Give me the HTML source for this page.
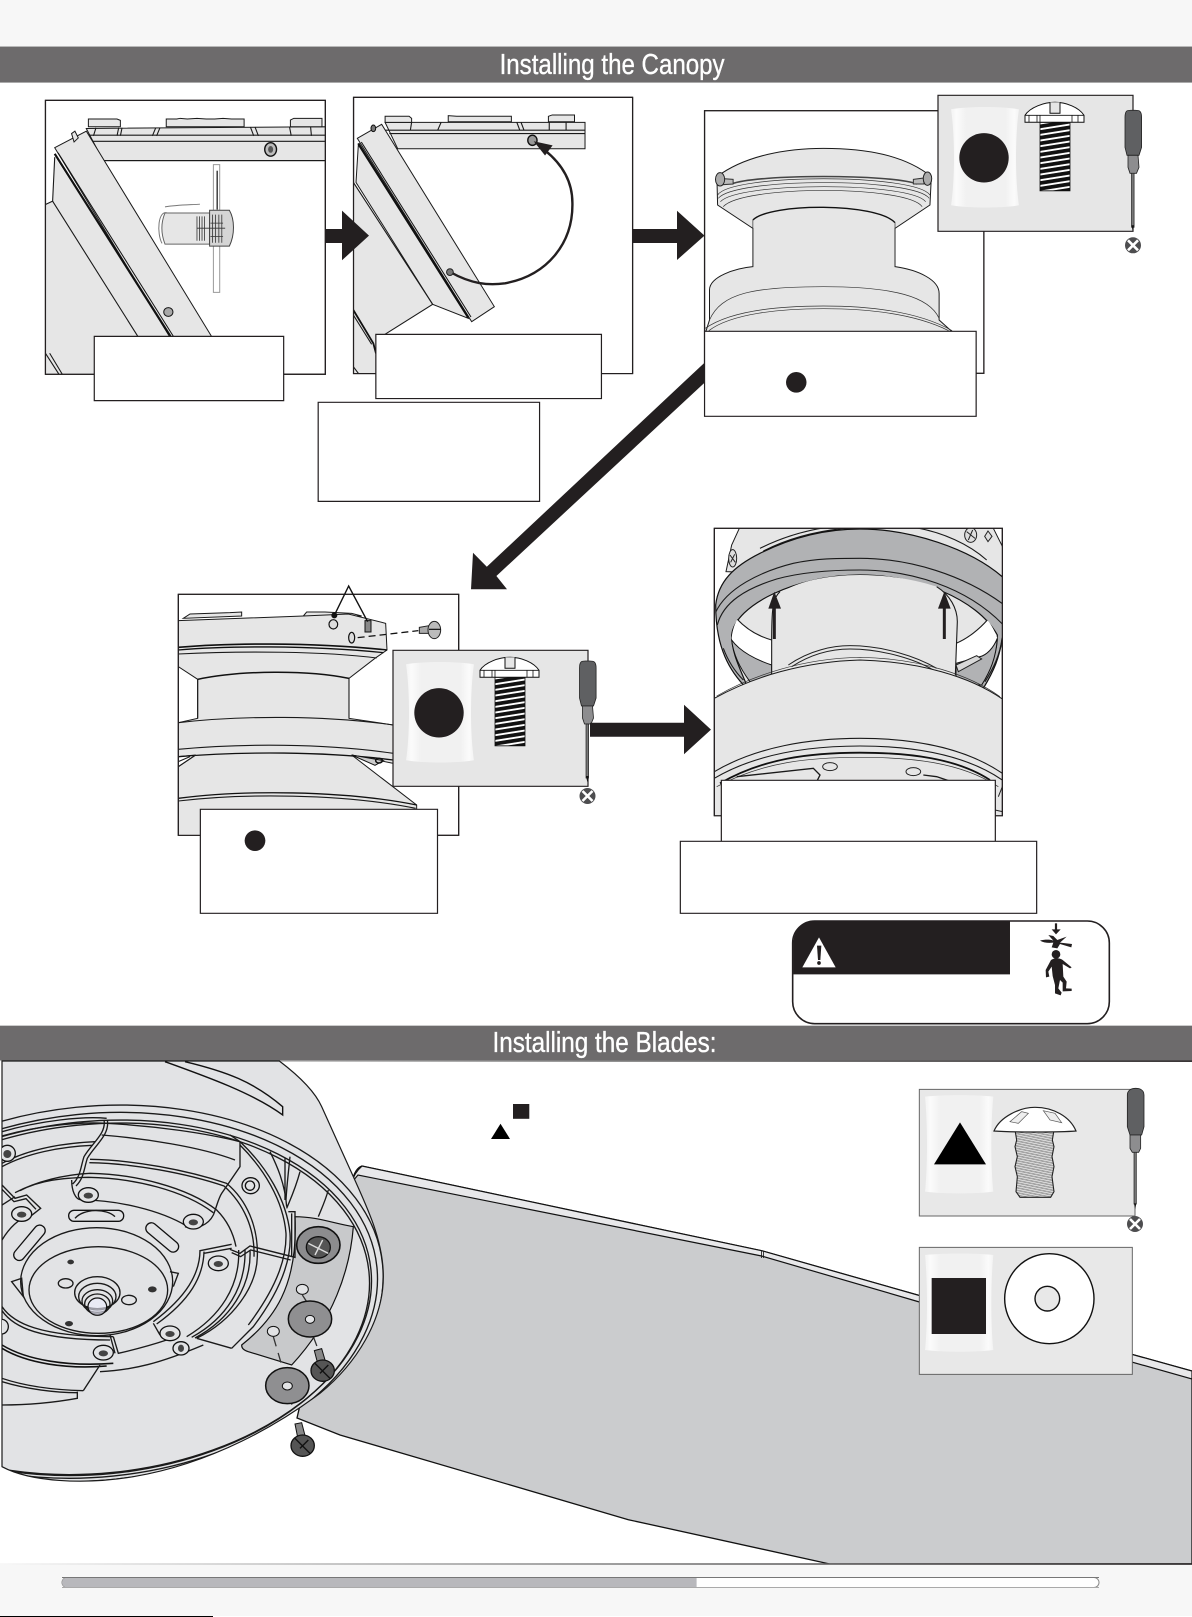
<!DOCTYPE html>
<html lang="en">
<head>
<meta charset="utf-8">
<title>Installing the Canopy</title>
<style>
html,body{margin:0;padding:0;background:#fff;}
svg{display:block;}
svg *{vector-effect:non-scaling-stroke;}
.l{fill:none;stroke:#1a1a1a;stroke-width:1.1;}
.t{fill:none;stroke:#333;stroke-width:.7;}
.g{fill:#e6e6e6;stroke:#1a1a1a;stroke-width:1;}
.n{fill:#e6e6e6;stroke:none;}
.w{fill:#fff;stroke:#231f20;stroke-width:1.2;}
.h{fill:none;stroke:#1a1a1a;stroke-width:1.35;}
.s{fill:#e2e3e5;stroke:#1a1a1a;stroke-width:1.2;}
.k{fill:#231f20;stroke:none;}
</style>
</head>
<body>
<svg xmlns="http://www.w3.org/2000/svg" width="1192" height="1617" viewBox="0 0 1192 1617">
<defs>
<linearGradient id="bag" x1="0" x2="1" y1="0" y2="0">
<stop offset="0" stop-color="#f3f3f3"/><stop offset=".08" stop-color="#fbfbfb"/><stop offset=".22" stop-color="#f1f1f1"/><stop offset=".8" stop-color="#f1f1f1"/><stop offset=".93" stop-color="#fbfbfb"/><stop offset="1" stop-color="#f3f3f3"/>
</linearGradient>
<linearGradient id="edge" x1="0" x2="1" y1="0" y2="0">
<stop offset="0" stop-color="#f7f7f7"/><stop offset=".5" stop-color="#8a8a8a"/><stop offset="1" stop-color="#231f20"/>
</linearGradient>
<pattern id="th" width="40" height="5.6" patternUnits="userSpaceOnUse" patternTransform="rotate(-9)">
<rect width="40" height="5.6" fill="#fff"/><rect width="40" height="3.7" fill="#111"/>
</pattern>
<pattern id="th2" width="40" height="5" patternUnits="userSpaceOnUse" patternTransform="rotate(-8)">
<rect width="40" height="5" fill="#d8d8d8"/><rect width="40" height="1" fill="#444"/>
</pattern>
<clipPath id="c1"><rect x="108" y="297" width="665" height="810"/></clipPath>
<clipPath id="c2"><rect x="840" y="288" width="663" height="817"/></clipPath>
<clipPath id="c2b"><rect x="40" y="8" width="800" height="827"/></clipPath>
<clipPath id="c3"><rect x="183" y="152" width="792" height="788"/></clipPath>
<clipPath id="c4"><rect x="10" y="13" width="841" height="723"/></clipPath>
<clipPath id="c5"><rect x="133" y="25" width="864" height="862"/></clipPath>
<clipPath id="hub"><path d="M6,123 H838 C900,170 945,215 965,260 L1060,470 C1100,560 1150,660 1150,770 C1150,900 1070,1030 960,1120 C840,1210 640,1330 400,1370 C250,1395 90,1385 6,1340 Z"/></clipPath>
<g id="hwb">
<rect x="0" y="0" width="195" height="136" fill="#e6e6e6" stroke="#231f20" stroke-width="1.2"/>
<path d="M13,14 C30,11 64,11 81,14 C77,40 77,85 81,110 C64,113 30,113 13,110 C17,85 17,40 13,14Z" fill="url(#bag)"/>
<circle cx="46" cy="62.5" r="24.7" fill="#231f20"/>
<rect x="102" y="27" width="30" height="68.5" fill="url(#th)" stroke="#111" stroke-width=".8"/>
<path d="M87,20 C92,12 106,7 117,7 C128,7 141,12 146,20 V27 H87 Z" fill="#fff" stroke="#111" stroke-width="1"/>
<path d="M87,20 H146 M91,20 V27 M99,20 V27 M134,20 V27 M140,20 V27 M102,20 V27" fill="none" stroke="#111" stroke-width=".8"/>
<path d="M112,7 V18 H122 V7" fill="#e6e6e6" stroke="#111" stroke-width="1"/>
</g>
<g id="drv">
<path d="M187,22 C187,14 190,15 195,15 C200,15 203.6,14 203.6,22 L203.6,52 L201,60 H189 L187,52 Z" fill="#5f6062" stroke="#222" stroke-width=".8"/>
<path d="M190,60 H200 L201,72 L198.5,78 H192 L190,72 Z" fill="#8d8d8f" stroke="#222" stroke-width=".8"/>
<rect x="193.5" y="78" width="2.6" height="54" fill="#777" stroke="#222" stroke-width=".7"/>
<path d="M193.5,130 H196.1 L194.8,136 Z" fill="#111"/>
<circle cx="195" cy="150" r="8" fill="#4d4d4f"/>
<path d="M190,145 L200,155 M200,145 L190,155" stroke="#fff" stroke-width="2.6" fill="none"/>
</g>
</defs>

<!-- page bands -->
<rect x="0" y="0" width="1192" height="46" fill="#f7f7f7"/>
<rect x="0" y="46" width="1192" height="37" fill="#6d6b6c"/>
<rect x="0" y="46" width="1192" height="1" fill="#b9b9b9"/>
<rect x="0" y="82" width="1192" height="1" fill="#aaa"/>
<text x="499.6" y="73.8" font-family="'Liberation Sans Narrow','Liberation Sans',sans-serif" font-size="29" fill="#fff" stroke="#fff" stroke-width=".35" textLength="225" lengthAdjust="spacingAndGlyphs">Installing the Canopy</text>

<!-- FRAME 1 and 2 -->
<g transform="matrix(.42088,0,0,.33806,0,0)">
<rect x="108" y="297" width="665" height="810" class="w"/>
<g clip-path="url(#c1)">
<path class="g" d="M205,380 L773,375 V475 H245 Z"/>
<path class="g" d="M210,375 V352 H278 L286,356 V375 Z M395,375 V352 H420 L428,350 L445,352 L468,350 L490,352 H510 L530,350 L550,352 H580 V375 Z M690,375 V355 L698,350 H765 V375 Z"/>
<path class="l" d="M205,400 H773 M215,418 H773 M240,475 H773 M228,378 L222,402 M282,378 L278,402 M290,378 L286,402 M370,378 L362,402 M380,378 L372,402 M595,376 L603,402 M606,376 L614,402 M688,376 L692,402 M738,376 L740,402"/>
<ellipse cx="643" cy="442" rx="14" ry="20" fill="#bbb" stroke="#111" stroke-width="1.4"/><ellipse cx="643" cy="442" rx="6" ry="10" fill="#555"/>
<path class="n" d="M108,605 L125,595 L130,465 L420,1010 V1107 H108 Z"/>
<path class="l" d="M108,605 L125,595 L130,465"/>
<path class="g" d="M130,437 L205,388 L510,1010 L410,1010 Z"/>
<path d="M130,455 L405,995" fill="none" stroke="#111" stroke-width="2.2"/>
<path d="M138,452 L412,995" fill="none" stroke="#111" stroke-width="1"/>
<path class="l" d="M125,595 L330,1000 M108,1045 L140,1107 M118,1045 L148,1107"/>
<path class="g" d="M170,395 L178,388 L186,408 L176,420 Z"/>
<ellipse cx="400" cy="923" rx="11" ry="13" fill="#a8a8a8" stroke="#111"/>
<rect x="507" y="487" width="15" height="378" fill="#fff" stroke="#999"/>
<line x1="516" y1="505" x2="516" y2="620" stroke="#222" stroke-width="1.3"/>
<path d="M392,630 H498 V722 H392 C382,690 382,660 392,630Z" fill="#e6e6e6" stroke="#666"/>
<path d="M398,630 C375,620 372,690 385,720 M392,612 C420,606 450,606 475,604" fill="none" stroke="#777"/>
<path d="M498,622 H545 C558,650 558,695 545,728 H498 Z" fill="#d5d5d5" stroke="#444"/>
<path d="M468,640 V712 M474,640 V712 M480,640 V712 M486,640 V712 M505,635 V718 M512,635 V718 M520,635 V718 M527,635 V718 M468,675 H535 M500,660 H530 M500,700 H530" fill="none" stroke="#333" stroke-width=".8"/>
</g>
<rect x="108" y="297" width="665" height="810" fill="none" stroke="#231f20" stroke-width="1.2"/>
<rect x="224" y="995" width="450" height="190" class="w"/>

<rect x="840" y="288" width="663" height="817" class="w"/>
<g clip-path="url(#c2)">
<path class="g" d="M915,362 H1390 V440 H945 Z"/>
<path class="g" d="M915,362 V344 H972 L978,350 V362 Z M1065,360 V342 L1085,344 H1215 V360 Z M1303,360 V344 L1312,340 H1365 V360 Z"/>
<path class="l" d="M915,385 H1390 M925,395 H1390 M978,362 L975,385 M1048,362 L1040,385 M1228,362 L1235,385 M1238,362 L1245,385 M1305,362 V385 M1345,362 V385"/>
<ellipse cx="1265" cy="415" rx="11" ry="15" fill="#999" stroke="#111" stroke-width="1.4"/>
</g>
</g>
<g transform="matrix(.33333,0,0,.33333,340,95)">
<g clip-path="url(#c2b)">
<path class="n" d="M40,262 L278,628 L135,718 H108 V835 H40 Z"/>
<path class="g" d="M55,150 L48,262 L278,628 L385,670 Z"/>
<path class="l" d="M40,262 L278,628 L135,718 M40,815 L55,835"/>
<path d="M40,645 L100,745 L108,775" fill="none" stroke="#111" stroke-width="1.8"/>
<path class="l" d="M40,660 L95,748"/>
<path class="g" d="M52,130 L125,88 L463,635 L395,680 Z"/>
<path d="M55,145 L385,668" fill="none" stroke="#111" stroke-width="2.2"/>
<path d="M64,141 L393,666" fill="none" stroke="#111" stroke-width="1"/>
<ellipse cx="100" cy="100" rx="7" ry="10" fill="#777" stroke="#111"/>
</g>
</g>
<g transform="matrix(.42088,0,0,.33806,0,0)">
<path d="M1070,805 C1120,840 1160,845 1200,838 C1300,815 1362,720 1360,600 C1360,530 1330,480 1295,445" fill="none" stroke="#231f20" stroke-width="2.4"/>
<ellipse cx="1069" cy="805" rx="8" ry="10" fill="#777" stroke="#222"/>
<polygon class="k" points="1268,418 1313,430 1295,460"/>
<rect x="840" y="288" width="663" height="817" fill="none" stroke="#231f20" stroke-width="1.2"/>
<rect x="893" y="989" width="536" height="190" class="w"/>
<rect x="756" y="1190" width="526" height="293" class="w"/>
</g>

<!-- FRAME 3 -->
<g transform="matrix(.35273,0,0,.33333,640,60)">
<rect x="183" y="152" width="792" height="788" class="w"/>
<g clip-path="url(#c3)">
<path class="g" d="M218,350 C300,285 420,265 520,265 C640,265 750,285 826,350 L822,435 L723,505 L723,620 C790,630 848,660 848,700 L848,780 L890,820 H185 L197,780 L197,690 C197,650 270,625 320,620 L320,505 L220,435 Z" stroke-width=".8"/>
<path class="t" d="M220,405 C260,340 780,340 822,405 M222,415 C270,352 775,352 820,415 M228,425 C280,365 765,365 810,425 M236,440 C290,375 755,375 800,440"/>
<path d="M260,372 C330,342 710,342 785,372" fill="none" stroke="#444" stroke-width="1.6"/>
<path d="M320,480 C370,428 670,428 723,488" fill="#e6e6e6" stroke="#111" stroke-width="1.4"/>
<path class="t" d="M320,505 V620 M723,505 V620 M320,480 V505 M723,488 V505"/>
<path class="t" d="M197,780 C230,700 320,680 520,680 C720,680 820,710 848,775 M185,805 C260,750 400,738 520,738 C650,738 790,755 885,812 M195,812 C260,760 400,746 520,746 C650,746 780,762 875,812"/>
<path d="M235,356 L264,358 V372 L235,374 Z M775,358 L805,354 V372 L775,372 Z" fill="#bbb" stroke="#333"/>
<ellipse cx="227" cy="358" rx="13" ry="20" fill="#aaa" stroke="#222"/>
<ellipse cx="815" cy="356" rx="12" ry="20" fill="#aaa" stroke="#222"/>
</g>
<rect x="183" y="152" width="792" height="788" fill="none" stroke="#231f20" stroke-width="1.2"/>
<rect x="183" y="814" width="770" height="255" class="w"/>
<ellipse cx="443" cy="967" rx="29" ry="31" fill="#231f20"/>
</g>
<use href="#hwb" x="938" y="95.3"/>
<use href="#drv" x="938" y="95.3"/>

<!-- FRAME 4 -->
<g transform="matrix(.33333,0,0,.33333,175,590)">
<rect x="10" y="13" width="841" height="723" class="w"/>
<g clip-path="url(#c4)">
<path class="g" d="M25,85 L45,72 L165,68 L200,66 V78 Z M385,78 L395,66 H450 L530,70 L560,78 Z"/>
<path class="g" d="M10,92 L385,78 L520,72 L632,100 L636,180 L600,205 L522,265 V385 L655,405 V520 L530,495 L725,645 V740 H10 V530 L62,495 L10,500 V398 L68,385 V268 L10,230 Z"/>
<path d="M10,172 C150,160 400,155 636,180" fill="none" stroke="#111" stroke-width="1.6"/>
<path d="M10,180 C150,168 400,165 625,188" fill="none" stroke="#111" stroke-width="1.3"/>
<path class="l" d="M10,192 C200,182 450,184 605,204"/>
<path d="M68,268 C200,240 400,240 522,265" fill="none" stroke="#111" stroke-width="1.5"/>
<path class="l" d="M68,268 V385 M522,265 V385"/>
<path class="l" d="M10,398 C200,376 450,376 655,405 M10,478 C200,460 450,460 655,490"/>
<path d="M10,500 C200,484 450,484 655,510" fill="none" stroke="#111" stroke-width="1.3"/>
<path d="M530,495 L625,512 L600,526 Z" fill="#ccc" stroke="#111"/>
<ellipse cx="612" cy="512" rx="10" ry="7" fill="none" stroke="#111" stroke-width="1.5"/>
<path class="l" d="M10,530 L62,495 M10,515 L45,500"/>
<path d="M10,625 C200,600 500,600 725,645" fill="none" stroke="#111" stroke-width="1.3"/>
<path class="l" d="M10,633 C200,610 500,610 722,655"/>
<ellipse cx="475" cy="103" rx="13" ry="14" fill="#ddd" stroke="#111" stroke-width="1.2"/>
<rect x="570" y="92" width="18" height="34" fill="#888" stroke="#111"/>
<ellipse cx="530" cy="143" rx="9" ry="16" fill="#ddd" stroke="#111" stroke-width="1.2"/>
</g>
<rect x="10" y="13" width="841" height="723" fill="none" stroke="#231f20" stroke-width="1.2"/>
<path d="M548,143 L730,122" fill="none" stroke="#111" stroke-width="1.3" stroke-dasharray="7 4"/>
<path d="M478,76 L521,-12 L578,95" fill="none" stroke="#111" stroke-width="1.4"/>
<circle cx="478" cy="76" r="9" fill="#111"/>
<path d="M733,112 L762,107 V130 L733,130 Z" fill="#aaa" stroke="#222"/>
<ellipse cx="778" cy="120" rx="19" ry="26" fill="#bbb" stroke="#222"/>
<path d="M762,118 H797" stroke="#111" stroke-width="1.2" fill="none"/>
</g>
<g transform="matrix(.35714,0,0,.33333,160,520)">
<rect x="113" y="868" width="664" height="312" class="w"/>
<ellipse cx="266" cy="962" rx="29" ry="31" fill="#231f20"/>
</g>
<use href="#hwb" x="393" y="650.3"/>
<use href="#drv" x="392.5" y="646"/>

<!-- FRAME 5 -->
<g transform="matrix(.33333,0,0,.33333,670,520)">
<rect x="133" y="25" width="864" height="862" class="w"/>
<g clip-path="url(#c5)">
<g transform="translate(120,15)">
<path class="g" d="M48,140 L65,60 L88,10 H850 L880,70 V170 Z"/>
<path class="l" d="M150,70 C240,25 330,5 420,0 M160,78 C250,32 340,14 430,8 M600,5 C700,20 780,60 830,105"/>
<ellipse cx="68" cy="100" rx="12" ry="26" fill="#ddd" stroke="#222"/>
<path d="M60,90 L76,112 M62,112 L74,88" stroke="#222" fill="none"/>
<ellipse cx="782" cy="30" rx="18" ry="22" fill="#ddd" stroke="#222"/>
<path d="M770,20 L795,40 M788,15 L775,45" stroke="#222" fill="none"/>
<path d="M834,18 L846,34 L834,50 L824,34 Z" fill="#ddd" stroke="#222"/>
<!-- ring -->
<path d="M17,240 C25,170 70,125 150,85 C240,40 340,12 450,12 C600,12 780,70 880,158 V320 C870,400 850,440 820,490 H110 C60,440 17,370 17,240Z" fill="#b1b2b4" stroke="#111" stroke-width="1.2"/>
<path class="l" d="M17,262 C50,190 150,140 250,115 C320,100 380,100 450,100 C600,100 760,150 880,238"/>
<path class="l" d="M22,300 C40,230 110,190 200,162 C280,140 370,135 450,135 C600,135 770,185 880,300"/>
<path d="M65,330 C75,240 260,150 450,150 C620,150 800,220 862,330 C862,370 850,420 810,480 H110 C85,420 65,380 65,330Z" fill="#e6e6e6" stroke="#111" stroke-width="1.2"/>
<path d="M82,283 C115,318 150,335 185,345 V420 C140,405 90,380 65,345 C65,325 72,300 82,283Z" fill="#fff"/>
<path d="M832,285 C810,310 775,340 738,355 V415 L810,395 C830,390 850,370 862,340 C855,320 845,300 832,285Z" fill="#fff"/>
<path class="l" d="M82,283 C115,318 150,335 185,345 M832,285 C810,310 775,340 738,355"/>
<path d="M65,345 C90,380 140,405 185,420 V470 L120,470 C90,430 70,390 65,345Z" fill="#b1b2b4" stroke="#111" stroke-width="1"/>
<path d="M738,415 L810,395 C830,390 850,370 862,340 C858,400 840,440 815,480 H738 Z" fill="#b1b2b4" stroke="#111" stroke-width="1"/>
<path d="M738,420 L800,392 L815,402 L745,440 Z" fill="#d8d8d8" stroke="#222"/>
<path class="l" d="M40,370 C55,410 75,440 100,465 M876,340 C870,390 850,430 825,470"/>
<path d="M185,450 V350 C185,290 195,235 210,205 C260,170 350,150 450,150 C540,150 620,165 680,185 C720,210 742,250 742,290 L736,450 Z" fill="#e6e6e6" stroke="none"/>
<path class="l" d="M185,450 V345 M742,290 L736,450 M210,200 C190,220 185,240 185,345 M680,185 C720,210 742,250 742,290"/>
<path d="M235,420 C300,375 370,362 420,362 C520,362 620,395 680,430 M245,425 C310,383 370,372 420,372 C520,372 620,405 670,435" fill="none" stroke="#222" stroke-width="1"/>
</g>
<path class="g" d="M133,535 C250,470 400,425 570,420 C750,425 900,470 997,537 V890 H133 Z"/>
<path class="t" d="M140,528 C250,465 400,415 570,412 C750,415 900,465 990,530"/>
<path class="l" d="M133,755 C260,680 420,655 570,655 C720,655 880,680 997,760 M133,775 C260,700 420,678 570,678 M570,678 C720,678 880,700 997,780"/>
<path d="M150,790 C280,715 420,698 570,698 C720,698 860,715 960,780" fill="none" stroke="#111" stroke-width="1.8"/>
<path class="t" d="M140,800 C280,725 420,712 570,712 C720,712 870,725 985,800"/>
<path class="h" d="M200,770 L430,745 L450,765 L440,785 M760,765 L800,770 L860,790"/>
<ellipse cx="480" cy="740" rx="22" ry="12" fill="#e6e6e6" stroke="#222"/>
<ellipse cx="730" cy="755" rx="22" ry="12" fill="#e6e6e6" stroke="#222"/>
<path d="M133,800 V830 M997,800 L985,830 M975,870 L997,875" fill="none" stroke="#222"/>
</g>
<path d="M313,357 V262" stroke="#231f20" stroke-width="3" fill="none"/>
<polygon class="k" points="313,215 295,266 333,266"/>
<path d="M823,357 V262" stroke="#231f20" stroke-width="3" fill="none"/>
<polygon class="k" points="823,215 804,266 842,266"/>
<rect x="133" y="25" width="864" height="862" fill="none" stroke="#231f20" stroke-width="1.2"/>
<rect x="154" y="781" width="822" height="184" class="w"/>
<rect x="31" y="964" width="1069" height="216" class="w"/>

<!-- warning -->
<rect x="368" y="1203" width="950" height="308" rx="66" ry="66" fill="#fff" stroke="#231f20" stroke-width="1.6"/>
<path class="k" d="M370,1363 V1270 C370,1230 400,1203 436,1203 H1020 V1363 Z"/>
<polygon points="447,1252 397,1342 497,1342" fill="#fff"/>
<path d="M441,1277 H454 L451,1320 H444 Z" fill="#231f20"/><circle cx="447" cy="1329" r="5.5" fill="#231f20"/>
<path d="M1158,1210 V1232" stroke="#231f20" stroke-width="2.2" fill="none"/>
<polygon class="k" points="1145,1228 1172,1228 1158,1243"/>
<path class="k" d="M1110,1262 C1125,1258 1140,1258 1150,1262 L1135,1245 L1150,1248 L1162,1260 L1190,1250 L1170,1268 L1206,1272 L1204,1282 L1170,1272 L1162,1285 L1145,1282 L1150,1268 C1135,1270 1120,1268 1110,1262Z"/>
<circle cx="1158" cy="1303" r="13" fill="#231f20"/>
<path class="k" d="M1143,1320 C1155,1312 1170,1314 1178,1320 L1205,1342 L1200,1345 L1178,1332 L1180,1370 L1190,1385 L1188,1405 L1205,1406 V1413 L1178,1414 L1178,1388 L1170,1380 L1165,1405 L1175,1418 L1172,1426 L1155,1420 L1155,1395 L1148,1368 L1145,1340 L1135,1355 L1138,1370 L1128,1372 L1127,1350 Z"/>
</g>

<!-- large arrows on top -->
<polygon class="k" points="325,229 342,229 342,210.6 369,235.6 342,260.3 342,243 325,243"/>
<polygon class="k" points="632,229 677,229 677,210.7 704.5,235.6 677,260 677,243 632,243"/>
<polygon class="k" points="704.5,362.7 704.5,382.7 496.4,576 507,589.3 471,589.3 473,552.7 486.8,566.7"/>
<polygon class="k" points="590,722.7 684,722.7 684,704.7 711,729.6 684,754.3 684,736.7 590,736.7"/>

<!-- BLADES SECTION -->
<rect x="0" y="1025" width="1192" height="36" fill="#6d6b6c"/>
<rect x="0" y="1025" width="1192" height="1" fill="#ccc"/>
<rect x="0" y="1060.5" width="1192" height="1.4" fill="url(#edge)"/>
<text x="492.5" y="1051.8" font-family="'Liberation Sans Narrow','Liberation Sans',sans-serif" font-size="29" fill="#fff" stroke="#fff" stroke-width=".35" textLength="224" lengthAdjust="spacingAndGlyphs">Installing the Blades:</text>

<!-- blade -->
<path d="M352,1182 Q355,1168 362,1166 L761.6,1250.7 L919.4,1295.5 L1192,1371 V1564 H829.7 L628.4,1519.7 L340,1435 L297,1418 Z" fill="#cbccce" stroke="#111" stroke-width="1.3"/>
<path d="M352,1182 Q354,1173 362,1166 L761.6,1250.7 L919.4,1295.5 L1192,1371 V1379 L919.4,1302 L761.6,1256 L358,1175 Z" fill="#e8e8ea" stroke="#111" stroke-width="1.2"/>
<path d="M761.6,1250.7 V1258 M763.6,1251 V1258" stroke="#111" stroke-width=".8" fill="none"/>
<rect x="513" y="1104" width="16.3" height="14.8" fill="#231f20"/>
<polygon points="500.5,1123.7 491,1139 510,1139" fill="#000"/>

<!-- hub -->
<g transform="matrix(.33333,0,0,.33333,0,1020)">
<path class="s" d="M6,123 H838 C900,170 945,215 965,260 L1060,470 C1100,560 1150,660 1150,770 C1150,900 1070,1030 960,1120 C840,1210 640,1330 400,1370 C250,1395 90,1385 6,1340 Z" stroke-width="1.6"/>
<g clip-path="url(#hub)">
<path d="M495,125 C620,170 760,220 848,285 L848,260 C760,185 680,155 555,125" fill="none" stroke="#111" stroke-width="1.4"/>
<ellipse cx="285" cy="820" rx="867" ry="561" transform="rotate(-5.7 285 820)" class="h"/>
<ellipse cx="285" cy="826" rx="850" ry="545" transform="rotate(-5.7 285 826)" class="h"/>
<ellipse cx="285" cy="832" rx="832" ry="528" transform="rotate(-5.7 285 832)" class="h"/>
<ellipse cx="285" cy="838" rx="826" ry="525" transform="rotate(-5.7 285 838)" class="h"/>
<!-- bracket -->
<path d="M885,590 C950,590 1000,610 1060,620 C1050,750 1000,900 875,1035 L745,995 C730,990 725,985 725,975 C820,900 895,800 885,590Z" fill="#c8c9cb" stroke="#111" stroke-width="1.2"/>
<g transform="translate(0,240)">
<path class="h" d="M6,108 C120,75 250,65 320,70 C470,78 620,100 720,125"/>
<path class="h" d="M6,95 C120,62 250,48 320,55"/>
<path class="h" d="M720,125 C800,200 860,300 870,400 C875,470 850,560 760,680 L695,745 M720,135 C790,205 850,300 858,400 C860,470 835,555 745,675"/>
<path class="h" d="M6,190 C80,150 180,130 285,125 M6,200 C80,160 180,140 278,136"/>
<path class="h" d="M305,105 C430,115 600,140 705,180"/>
<path class="h" d="M270,178 C400,180 560,210 680,250 C740,300 775,380 772,470 C770,560 700,660 590,715 M268,188 C400,190 560,220 672,258 C730,310 765,385 762,470"/>
<path class="h" d="M716,450 C720,560 660,650 560,710 M735,450 C738,560 680,655 575,712 M750,450 C755,560 690,658 585,714"/>
<path class="h" d="M45,278 C110,245 180,225 270,220 C400,222 560,260 650,330 C680,360 700,400 708,440 M60,272 C120,240 190,234 265,232 C400,234 550,270 640,338"/>
<path class="h" d="M215,240 C215,270 225,300 245,300 C350,300 480,330 560,378"/>
<path class="h" d="M555,380 C590,390 625,375 640,345 C650,320 655,295 665,280 L720,200 V125 M690,105 L720,125"/>
<path class="h" d="M322,60 C330,105 285,135 262,175 C252,205 252,235 228,258 M312,60 C320,100 275,130 252,170 C242,200 242,230 218,252"/>
<path class="h" d="M6,255 L45,295 L80,285 L122,325 L90,350 M6,268 L42,305 L78,296 L108,328 M6,420 C30,380 55,360 85,345 M6,315 L45,290"/>
<path class="h" d="M600,452 L695,433 M612,460 L695,445"/>
<path class="h" d="M600,450 C600,520 560,590 460,665 M612,455 C610,530 570,600 470,672"/>
<path class="h" d="M690,448 L720,460 L750,438 L885,472 L885,335 L865,335 M695,458 L722,470 L752,450 L872,480 M875,340 V470"/>
<path class="h" d="M460,670 L480,705 M340,710 L355,760 C420,745 470,730 500,720 M330,705 L345,760"/>
<path class="h" d="M6,620 C40,670 120,710 340,710 M6,632 C40,682 120,720 330,720"/>
<path d="M6,735 C80,780 200,800 340,790 M6,745 C80,790 200,808 320,798" fill="none" stroke="#111" stroke-width="1.6"/>
<path class="h" d="M300,815 C400,810 480,790 610,735 M590,715 L695,745 M300,795 L250,872 M6,835 C80,860 170,870 250,872 M6,845 C80,868 170,878 232,878 M232,875 V895 C150,910 70,915 6,915"/>
<path class="h" d="M810,155 C830,195 855,250 860,320 M855,175 V300 M900,215 C885,270 870,300 860,325 M870,170 C865,220 860,260 858,300 M985,270 C975,305 965,325 955,350"/>
<ellipse cx="290" cy="545" rx="228" ry="162" class="h"/>
<ellipse cx="295" cy="570" rx="208" ry="130" class="h"/>
<rect x="206" y="331" width="165" height="33" rx="16" fill="#e2e3e5" stroke="#111" stroke-width="1.3"/>
<path class="h" d="M225,355 C250,325 320,325 345,350"/>
<rect x="428" y="396" width="118" height="33" rx="16" transform="rotate(40 487 412)" fill="#e2e3e5" stroke="#111" stroke-width="1.3"/>
<rect x="24" y="412" width="128" height="33" rx="16" transform="rotate(-50 88 428)" fill="#e2e3e5" stroke="#111" stroke-width="1.3"/>
<path class="h" d="M35,545 L65,535 L70,590 Z M510,515 L535,520 L520,560"/>
<ellipse cx="292" cy="578" rx="68" ry="48" class="h"/>
<ellipse cx="292" cy="590" rx="56" ry="40" class="h"/>
<ellipse cx="292" cy="603" rx="46" ry="34" class="h"/>
<ellipse cx="292" cy="612" rx="38" ry="30" class="h"/>
<ellipse cx="292" cy="620" rx="28" ry="26" fill="#eef" fill-opacity=".6" stroke="#111" stroke-width="1.2"/>
<ellipse cx="212" cy="486" rx="10" ry="7" fill="#333"/><ellipse cx="197" cy="550" rx="22" ry="14" class="h"/><ellipse cx="457" cy="568" rx="13" ry="9" fill="#333"/><ellipse cx="387" cy="600" rx="22" ry="14" class="h"/><ellipse cx="207" cy="671" rx="12" ry="8" fill="#333"/>
<g fill="#e2e3e5" stroke="#111" stroke-width="1.3">
<ellipse cx="265" cy="285" rx="30" ry="22"/><ellipse cx="65" cy="342" rx="30" ry="22"/><ellipse cx="580" cy="365" rx="30" ry="22"/><ellipse cx="655" cy="490" rx="30" ry="22"/><ellipse cx="510" cy="700" rx="30" ry="22"/><ellipse cx="310" cy="758" rx="30" ry="22"/><ellipse cx="543" cy="745" rx="24" ry="20"/><ellipse cx="22" cy="160" rx="24" ry="24"/><ellipse cx="752" cy="257" rx="26" ry="24"/><ellipse cx="5" cy="680" rx="20" ry="22"/>
</g>
<g fill="#444">
<ellipse cx="265" cy="287" rx="14" ry="9"/><ellipse cx="65" cy="344" rx="14" ry="9"/><ellipse cx="580" cy="367" rx="14" ry="9"/><ellipse cx="655" cy="492" rx="14" ry="9"/><ellipse cx="510" cy="702" rx="14" ry="9"/><ellipse cx="310" cy="760" rx="14" ry="9"/><ellipse cx="543" cy="745" rx="9" ry="11"/><ellipse cx="22" cy="162" rx="12" ry="12"/>
</g>
<ellipse cx="750" cy="257" rx="14" ry="14" fill="none" stroke="#111" stroke-width="1.3"/>
</g>
<!-- hardware on bracket -->
<ellipse cx="955" cy="675" rx="65" ry="55" fill="#8c8c8e" stroke="#111" stroke-width="1.6"/>
<ellipse cx="955" cy="682" rx="36" ry="32" fill="#555" stroke="#111" stroke-width="1.3"/>
<path d="M925,670 L985,700 M968,660 L945,705" stroke="#ddd" stroke-width="1.4" fill="none"/>
<ellipse cx="907" cy="808" rx="18" ry="15" fill="#e2e3e5" stroke="#111"/>
<ellipse cx="820" cy="934" rx="18" ry="15" fill="#e2e3e5" stroke="#111"/>
<path d="M907,825 L920,845 M940,950 L955,990 M820,950 L848,1045 M868,1125 L880,1170" fill="none" stroke="#333" stroke-width="1.3" stroke-dasharray="10 7"/>
<ellipse cx="930" cy="897" rx="65" ry="54" fill="#8f8f91" stroke="#111" stroke-width="1.5"/>
<ellipse cx="930" cy="898" rx="14" ry="12" fill="#e2e3e5" stroke="#111"/>
<ellipse cx="862" cy="1097" rx="65" ry="54" fill="#8f8f91" stroke="#111" stroke-width="1.5"/>
<ellipse cx="862" cy="1098" rx="15" ry="12" fill="#e2e3e5" stroke="#111"/>
<path d="M943,992 L965,986 L978,1030 L955,1038 Z" fill="#888" stroke="#111"/>
<ellipse cx="968" cy="1052" rx="35" ry="32" fill="#555" stroke="#111" stroke-width="1.3"/>
<path d="M945,1030 L990,1075 M960,1060 L985,1035" stroke="#111" stroke-width="1.4" fill="none"/>
</g>
<path d="M885,1212 L905,1208 L918,1258 L895,1262 Z" fill="#888" stroke="#111"/>
<ellipse cx="908" cy="1277" rx="35" ry="32" fill="#555" stroke="#111" stroke-width="1.3"/>
<path d="M885,1255 L930,1300 M900,1285 L925,1260" stroke="#111" stroke-width="1.4" fill="none"/>
</g>

<!-- blade hardware boxes -->
<g transform="matrix(.33333,0,0,.33333,880,1070)">
<rect x="118" y="58" width="647" height="380" fill="#e8e8e8" stroke="#666" stroke-width="1"/>
<path d="M135,80 C190,74 290,74 340,80 C332,160 332,290 340,365 C290,372 190,372 135,365 C143,290 143,160 135,80Z" fill="url(#bag)"/>
<polygon points="240,157 162,283 318,283" fill="#000"/>
<path d="M405,180 H522 L517,210 L522,230 L516,260 L522,290 L516,320 L522,365 L512,382 H420 L408,365 L412,320 L405,290 L412,260 L405,230 L410,210 Z" fill="url(#th2)" stroke="#222" stroke-width="1.1"/>
<path d="M342,183 C360,140 420,112 465,112 C520,112 570,140 588,183 C540,187 390,187 342,183Z" fill="#fff" stroke="#222" stroke-width="1.2"/>
<path d="M390,155 L425,125 L445,130 L415,160 Z M490,122 L525,130 L545,158 L510,150 Z" fill="#eee" stroke="#555" stroke-width=".7"/>
<path d="M742,75 C742,60 755,55 767,55 C780,55 792,60 792,75 V170 L785,195 H750 L742,170 Z" fill="#5f6062" stroke="#222" stroke-width=".8"/>
<path d="M750,195 H782 V235 L776,247 H757 L750,235 Z" fill="#8d8d8f" stroke="#222" stroke-width=".8"/>
<rect x="762" y="247" width="7" height="155" fill="#777" stroke="#222" stroke-width=".7"/>
<path d="M762,400 H769 L765.5,418 Z" fill="#111"/>
<circle cx="765" cy="462" r="24" fill="#4d4d4f"/>
<path d="M750,447 L780,477 M780,447 L750,477" stroke="#fff" stroke-width="2.6" fill="none"/>
<rect x="118" y="532" width="639" height="381" fill="#e8e8e8" stroke="#666" stroke-width="1"/>
<path d="M135,555 C190,549 290,549 340,555 C332,635 332,765 340,840 C290,847 190,847 135,840 C143,765 143,635 135,555Z" fill="url(#bag)"/>
<rect x="155" y="624" width="163" height="168" fill="#231f20"/>
<ellipse cx="508" cy="686" rx="134" ry="135" fill="#fff" stroke="#111" stroke-width="1.4"/>
<circle cx="502" cy="686" r="37" fill="#e8e8e8" stroke="#111" stroke-width="1.4"/>
</g>

<!-- footer -->
<rect x="0" y="1564.5" width="1192" height="52" fill="#f7f7f7"/>
<rect x="0" y="1563.2" width="1192" height="1.6" fill="url(#edge)"/>
<rect x="62" y="1577.5" width="1037" height="10" rx="5" ry="5" fill="#fff" stroke="#8a8a8a" stroke-width="1"/>
<path d="M67,1577.5 H696.6 V1587.5 H67 A5,5 0 0 1 67,1577.5Z" fill="#b8b8bc" stroke="none"/>
<rect x="62" y="1587" width="1037" height="1" fill="#aaa"/>
<rect x="62" y="1577" width="1037" height="1" fill="#777"/>
<rect x="0" y="1616" width="213" height="1" fill="#000"/>
<rect x="213" y="1616" width="979" height="1" fill="#fff"/>
</svg>
</body>
</html>
